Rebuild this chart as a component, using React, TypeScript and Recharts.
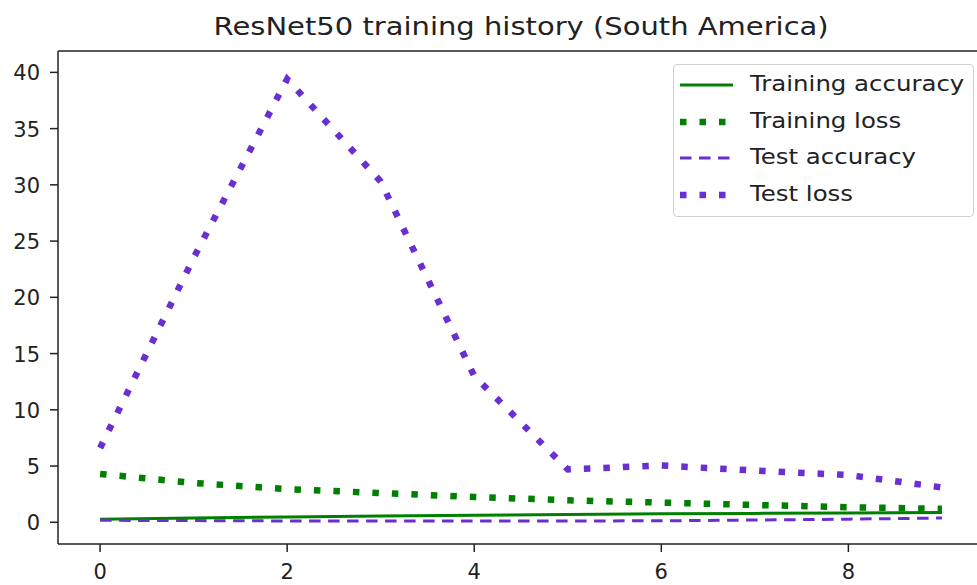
import { LineChart, Line, XAxis, YAxis, Legend, ReferenceLine } from "recharts";

const epochs = [0, 1, 2, 3, 4, 5, 6, 7, 8, 9];
const trainingAccuracy = [0.27, 0.38, 0.47, 0.56, 0.63, 0.7, 0.75, 0.79, 0.83, 0.86];
const trainingLoss = [4.3, 3.5, 2.95, 2.6, 2.25, 1.96, 1.75, 1.54, 1.34, 1.2];
const testAccuracy = [0.18, 0.15, 0.12, 0.12, 0.12, 0.12, 0.13, 0.2, 0.28, 0.38];
const testLoss = [6.6, 23.5, 39.4, 30.3, 13.0, 4.7, 5.05, 4.6, 4.2, 3.1];

const xTicks = [0, 2, 4, 6, 8];
const yTicks = [0, 5, 10, 15, 20, 25, 30, 35, 40];

const GREEN = "#008000";
const PURPLE = "#6a2fd2";
const FONT = "'DejaVu Sans', sans-serif";
const Y_TOP = 41.9;

const series = [
  { key: "trainAcc", label: "Training accuracy", color: GREEN, width: 3, dash: undefined },
  { key: "trainLoss", label: "Training loss", color: GREEN, width: 6.5, dash: "6.5 13" },
  { key: "testAcc", label: "Test accuracy", color: PURPLE, width: 3, dash: "11.5 7.5" },
  { key: "testLoss", label: "Test loss", color: PURPLE, width: 6.5, dash: "6.5 13" },
];

const data = epochs.map((e, i) => ({
  epoch: e,
  trainAcc: trainingAccuracy[i],
  trainLoss: trainingLoss[i],
  testAcc: testAccuracy[i],
  testLoss: testLoss[i],
}));

function XTick(props: { x?: number; y?: number; payload?: { value: number } }) {
  const { x = 0, y = 0, payload } = props;
  return (
    <text x={x} y={y + 15} textAnchor="middle" fill="#222" fontSize={21} fontFamily={FONT}>
      {payload?.value}
    </text>
  );
}

function YTick(props: { x?: number; y?: number; payload?: { value: number } }) {
  const { x = 0, y = 0, payload } = props;
  return (
    <text x={x} y={y + 8} textAnchor="end" fill="#222" fontSize={21} fontFamily={FONT}>
      {payload?.value}
    </text>
  );
}

function LegendBox() {
  return (
    <div
      style={{
        width: 301,
        height: 153,
        border: "1px solid #d0d0d0",
        borderRadius: 4,
        background: "rgba(255,255,255,0.85)",
        boxSizing: "border-box",
        position: "relative",
      }}
    >
      {series.map((s, i) => (
        <div
          key={s.key}
          style={{ position: "absolute", left: 0, top: 20 + i * 36.5 - 18, height: 36, width: 300 }}
        >
          <svg width={70} height={36} style={{ position: "absolute", left: 0, top: 0 }}>
            <line
              x1={6}
              x2={59}
              y1={18}
              y2={18}
              stroke={s.color}
              strokeWidth={s.width}
              strokeDasharray={s.dash}
            />
          </svg>
          <span
            style={{
              position: "absolute",
              left: 76,
              top: 4,
              fontFamily: FONT,
              fontSize: 22,
              color: "#222",
              whiteSpace: "nowrap",
              lineHeight: "26px",
              transform: "scaleX(1.11)",
              transformOrigin: "0 50%",
            }}
          >
            {s.label}
          </span>
        </div>
      ))}
    </div>
  );
}

export default function App() {
  return (
    <div style={{ position: "absolute", left: 0, top: 0, width: 977, height: 585, background: "#fff" }}>
      <div
        style={{
          position: "absolute",
          left: 0,
          width: 1042,
          top: 12,
          textAlign: "center",
          zIndex: 2,
        }}
      >
        <span
          style={{
            display: "inline-block",
            fontFamily: FONT,
            fontSize: 25,
            color: "#222",
            transform: "scaleX(1.16)",
            transformOrigin: "50% 50%",
            whiteSpace: "nowrap",
          }}
        >
          ResNet50 training history (South America)
        </span>
      </div>
      <LineChart
        width={977}
        height={585}
        data={data}
        margin={{ top: 51, right: -7, bottom: 0, left: 0 }}
      >
        <XAxis
          dataKey="epoch"
          type="number"
          domain={[-0.45, 9.45]}
          ticks={xTicks}
          allowDataOverflow
          height={41}
          tickSize={8}
          tickMargin={12}
          stroke="#222"
          axisLine={{ stroke: "#222", strokeWidth: 1.5 }}
          tickLine={{ stroke: "#222", strokeWidth: 1.5 }}
          tick={<XTick />}
        />
        <YAxis
          type="number"
          domain={[-1.93, Y_TOP]}
          ticks={yTicks}
          allowDataOverflow
          width={58}
          tickSize={8}
          tickMargin={10}
          axisLine={{ stroke: "#222", strokeWidth: 1.5 }}
          tickLine={{ stroke: "#222", strokeWidth: 1.5 }}
          tick={<YTick />}
        />
        <ReferenceLine y={Y_TOP} stroke="#222" strokeWidth={1.5} ifOverflow="visible" />
        <Legend
          layout="vertical"
          align="center"
          verticalAlign="middle"
          content={() => <LegendBox />}
          wrapperStyle={{ position: "absolute", left: 673, top: 64, width: 301, height: 153 }}
        />
        {series.map((s) => (
          <Line
            key={s.key}
            dataKey={s.key}
            name={s.label}
            type="linear"
            stroke={s.color}
            strokeWidth={s.width}
            strokeDasharray={s.dash}
            dot={false}
            activeDot={false}
            isAnimationActive={false}
          />
        ))}
      </LineChart>
    </div>
  );
}
